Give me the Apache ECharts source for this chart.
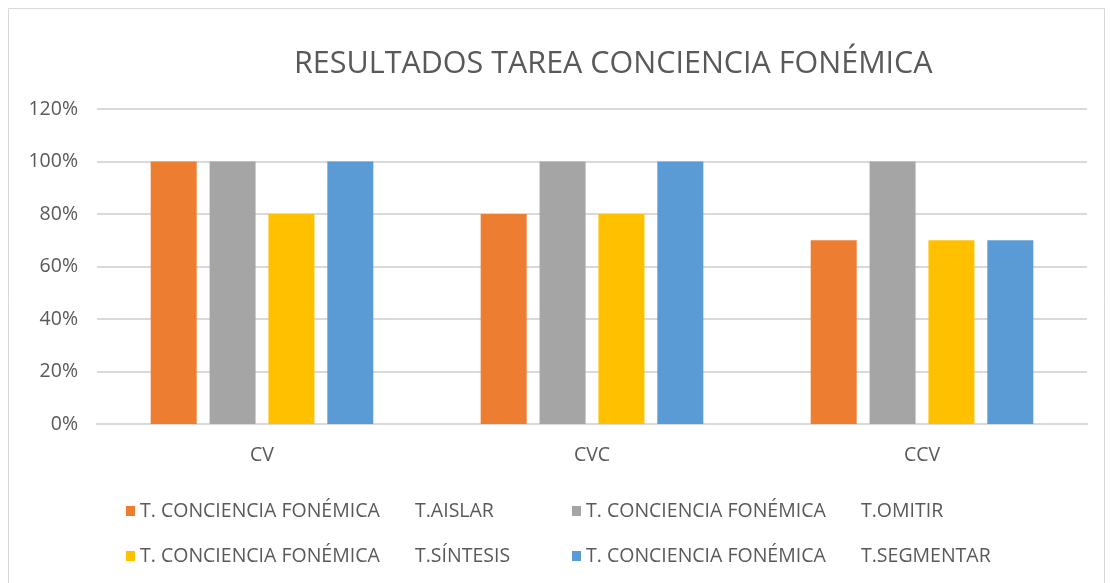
<!DOCTYPE html>
<html>
<head>
<meta charset="utf-8">
<script src="https://cdn.jsdelivr.net/npm/echarts@6/dist/echarts.min.js"></script>
<style>
  html, body { margin: 0; padding: 0; background: #fff; }
  #chart { width: 1110px; height: 583px; }
</style>
</head>
<body>
<div id="chart"></div>
<script>
// datos
var categories = ['CV', 'CVC', 'CCV'];
var yTicks = [0, 20, 40, 60, 80, 100, 120];
var aislar = [100, 80, 70];
var omitir = [100, 100, 100];
var sintesis = [80, 80, 70];
var segmentar = [100, 100, 70];

var grupo = 'T. CONCIENCIA FONÉMICA';
var tareas = ['T.AISLAR', 'T.OMITIR', 'T.SÍNTESIS', 'T.SEGMENTAR'];
var colores = ['#ED7D31', '#A5A5A5', '#FFC000', '#5B9BD5'];
var valores = [aislar, omitir, sintesis, segmentar];

var fuente = "'Open Sans', sans-serif";
var gris = '#595959';

var nombres = tareas.map(function (t) { return grupo + '     ' + t; });

var chart = echarts.init(document.getElementById('chart'));

var legendBase = {
  itemWidth: 9,
  itemHeight: 10,
  icon: 'rect',
  itemGap: 25,
  formatter: function (name) {
    var p = name.split(/\s{2,}/);
    return '{a|' + p[0] + '}{b|' + p[1] + '}';
  },
  textStyle: {
    fontFamily: fuente,
    fontSize: 19.5,
    color: gris,
    rich: {
      a: { width: 275, lineHeight: 22, fontFamily: fuente, fontSize: 19.5, color: gris },
      b: { width: 132, lineHeight: 22, fontFamily: fuente, fontSize: 19.5, color: gris }
    }
  }
};

chart.setOption({
  animation: false,
  title: {
    text: 'RESULTADOS TAREA CONCIENCIA FONÉMICA',
    left: 289,
    top: 44,
    textStyle: { fontFamily: fuente, fontSize: 30.5, fontWeight: 'normal', color: gris }
  },
  graphic: [{
    type: 'rect',
    shape: { x: 8.5, y: 8.5, width: 1096, height: 600 },
    style: { fill: 'none', stroke: '#D9D9D9', lineWidth: 1 },
    silent: true
  }],
  legend: [
    Object.assign({}, legendBase, { data: [nombres[0], nombres[1]], left: 121, top: 496 }),
    Object.assign({}, legendBase, { data: [nombres[2], nombres[3]], left: 121, top: 541 })
  ],
  grid: { left: 97, right: 23, top: 109, bottom: 159 },
  xAxis: {
    type: 'category',
    data: categories,
    axisLine: { lineStyle: { color: '#D9D9D9', width: 2 } },
    axisTick: { show: false },
    axisLabel: { fontFamily: fuente, fontSize: 19.5, color: gris, margin: 21 }
  },
  yAxis: {
    type: 'value',
    min: yTicks[0],
    max: yTicks[yTicks.length - 1],
    interval: 20,
    axisLine: { show: false },
    axisTick: { show: false },
    splitLine: { lineStyle: { color: '#D9D9D9', width: 2 } },
    axisLabel: { fontFamily: fuente, fontSize: 19.5, color: gris, margin: 19, formatter: '{value}%' }
  },
  series: valores.map(function (v, i) {
    return {
      name: nombres[i],
      type: 'bar',
      data: v,
      barWidth: 46,
      barGap: '28%',
      itemStyle: { color: colores[i] }
    };
  })
});
</script>
</body>
</html>
